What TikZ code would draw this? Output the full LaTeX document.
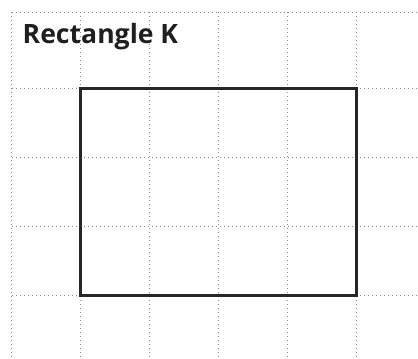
\documentclass[tikz,border=0pt]{standalone}
\usepackage{fontspec}
\setmainfont{Open Sans}
\begin{document}
\begin{tikzpicture}[x=1pt,y=-1pt,
  gridline/.style={draw=black!45,line width=1pt,dash pattern=on 1pt off 3pt},
  rectk/.style={draw=black!85,line width=3pt,line cap=rect,line join=miter},
  titletext/.style={font=\bfseries\fontsize{26.6}{30}\selectfont,text=black!88,inner sep=0pt,anchor=base west}]
\useasboundingbox (0,0) rectangle (418,359);
% grid
\foreach \y in {12,88,157,226,295}{\draw[gridline] (11.5,\y) -- (418,\y);}
\foreach \x in {11.5,80,149,218,287,356}{\draw[gridline] (\x,12) -- (\x,359);}
% rectangle
\coordinate (tl) at (80,88);
\coordinate (br) at (356,295);
\draw[rectk] (tl) rectangle (br);
\node[titletext] (title) at (22.5,43) {Rectangle K};
\end{tikzpicture}
\end{document}
